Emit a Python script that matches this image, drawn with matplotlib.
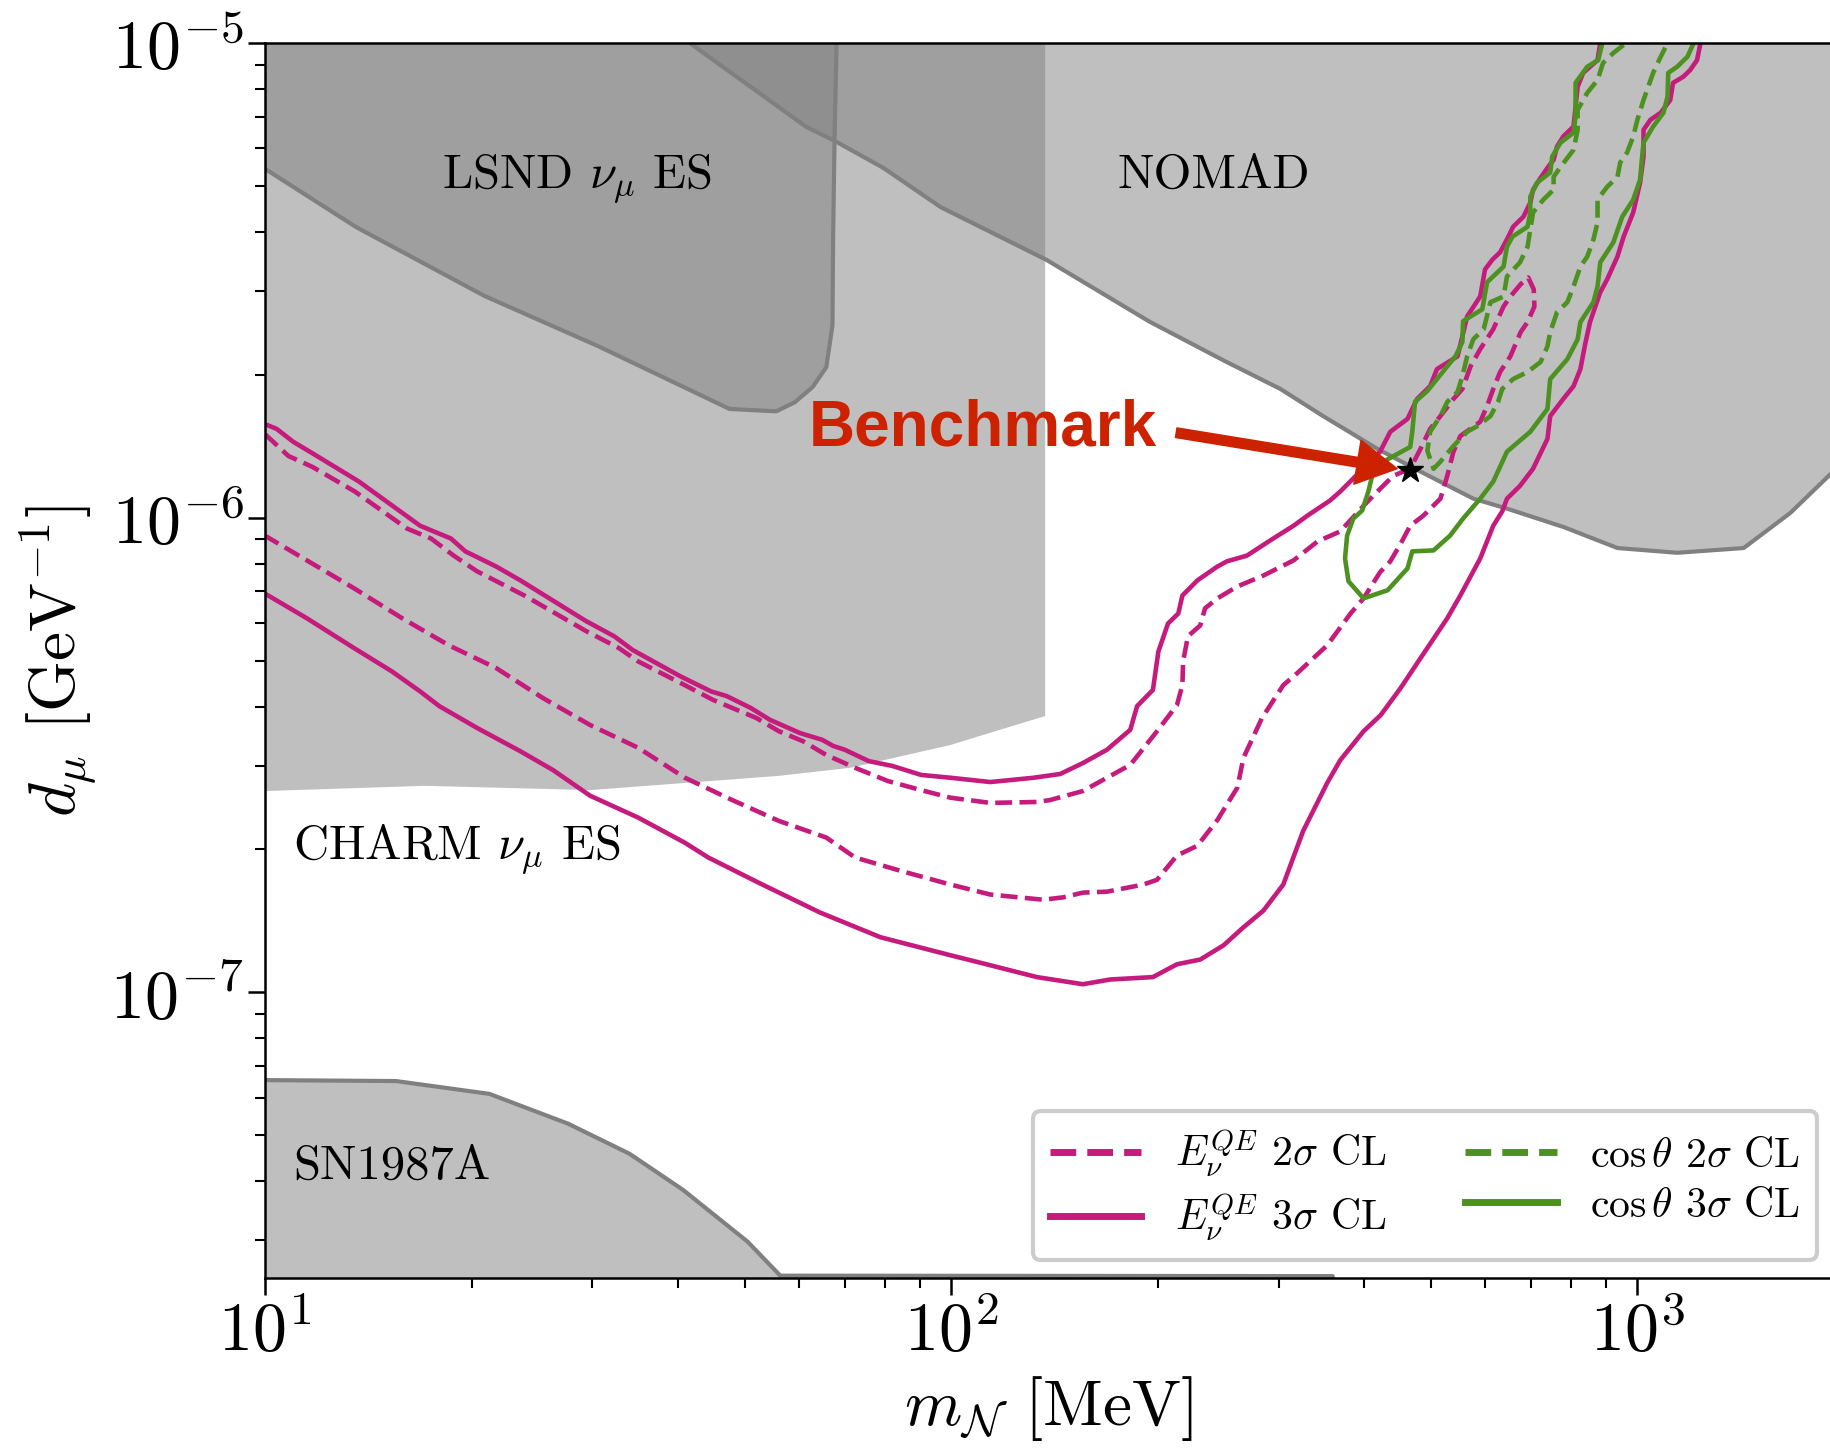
import numpy as np
import matplotlib
matplotlib.use('Agg')
import matplotlib.pyplot as plt
from matplotlib.lines import Line2D

plt.rcParams.update({'font.family': 'serif', 'font.serif': ['cmr10'],
                     'mathtext.fontset': 'cm',
                     'axes.formatter.use_mathtext': True,
                     'font.size': 44})

# all curves given as (log10 m_N [MeV], log10 d_mu [GeV^-1])
charm_edge = np.array([[1.000, -6.576], [1.233, -6.565], [1.474, -6.574], [1.749, -6.544],
                       [1.853, -6.527], [1.999, -6.479], [2.071, -6.447], [2.137, -6.418]])

lsnd_edge = np.array([[1.000, -5.265], [1.133, -5.388], [1.320, -5.533], [1.486, -5.639],
                      [1.677, -5.771], [1.745, -5.776], [1.772, -5.757], [1.798, -5.725],
                      [1.818, -5.683], [1.827, -5.595], [1.828, -5.405], [1.830, -5.206],
                      [1.833, -5.000]])

nomad_edge = np.array([[1.619, -5.000], [1.789, -5.177], [1.830, -5.206], [1.901, -5.263],
                       [1.985, -5.346], [2.139, -5.457], [2.289, -5.587], [2.400, -5.671],
                       [2.480, -5.729], [2.542, -5.786], [2.621, -5.855], [2.684, -5.903],
                       [2.761, -5.960], [2.810, -5.981], [2.893, -6.020], [2.971, -6.064],
                       [3.058, -6.074], [3.155, -6.064], [3.223, -5.990], [3.281, -5.909],
                       [3.310, -5.870]])

sn_edge = np.array([[1.000, -7.185], [1.191, -7.187], [1.327, -7.214], [1.442, -7.277],
                    [1.531, -7.340], [1.609, -7.416], [1.703, -7.525], [1.751, -7.597],
                    [2.556, -7.598], [2.560, -8.500]])

# E_nu^QE 3 sigma: two open branches
e3_upper = np.array([
    [1.000, -5.803], [1.017, -5.813], [1.041, -5.840], [1.071, -5.866], [1.137, -5.924],
    [1.226, -6.017], [1.271, -6.044], [1.292, -6.071], [1.337, -6.103], [1.372, -6.132],
    [1.468, -6.218], [1.509, -6.250], [1.536, -6.279], [1.605, -6.334], [1.650, -6.366],
    [1.673, -6.376], [1.708, -6.401], [1.736, -6.426], [1.780, -6.454], [1.812, -6.468],
    [1.828, -6.481], [1.845, -6.489], [1.880, -6.513], [1.914, -6.523], [1.956, -6.542],
    [1.999, -6.548], [2.057, -6.557], [2.120, -6.548], [2.159, -6.540], [2.192, -6.517],
    [2.227, -6.489], [2.261, -6.447], [2.271, -6.397], [2.294, -6.363], [2.302, -6.282],
    [2.316, -6.223], [2.331, -6.202], [2.337, -6.164], [2.359, -6.132], [2.388, -6.103],
    [2.402, -6.092], [2.431, -6.080], [2.465, -6.048], [2.499, -6.017], [2.519, -5.996],
    [2.552, -5.964], [2.567, -5.945], [2.596, -5.903], [2.625, -5.861], [2.640, -5.819],
    [2.665, -5.792], [2.679, -5.750], [2.698, -5.723], [2.708, -5.687], [2.738, -5.660],
    [2.745, -5.618], [2.752, -5.576], [2.771, -5.534], [2.778, -5.477], [2.789, -5.456],
    [2.800, -5.441], [2.812, -5.408], [2.819, -5.387], [2.834, -5.366], [2.844, -5.336],
    [2.848, -5.309], [2.859, -5.284], [2.870, -5.261], [2.878, -5.246], [2.883, -5.218],
    [2.892, -5.197], [2.907, -5.176], [2.910, -5.134], [2.913, -5.092], [2.921, -5.063],
    [2.942, -5.036], [2.946, -5.000]])

e3_lower = np.array([
    [1.000, -6.160], [1.061, -6.212], [1.130, -6.275], [1.185, -6.324], [1.226, -6.366],
    [1.254, -6.397], [1.309, -6.443], [1.372, -6.492], [1.420, -6.532], [1.474, -6.586],
    [1.544, -6.632], [1.612, -6.685], [1.646, -6.716], [1.722, -6.771], [1.809, -6.832],
    [1.897, -6.884], [1.999, -6.922], [2.057, -6.943], [2.125, -6.968], [2.192, -6.983],
    [2.232, -6.973], [2.294, -6.968], [2.329, -6.941], [2.363, -6.931], [2.397, -6.901],
    [2.426, -6.863], [2.455, -6.828], [2.484, -6.773], [2.513, -6.660], [2.548, -6.559],
    [2.567, -6.511], [2.601, -6.450], [2.626, -6.416], [2.655, -6.359], [2.684, -6.296],
    [2.723, -6.212], [2.742, -6.164], [2.771, -6.086], [2.790, -6.017], [2.803, -5.987],
    [2.810, -5.960], [2.829, -5.933], [2.848, -5.897], [2.869, -5.834], [2.873, -5.786],
    [2.892, -5.750], [2.907, -5.723], [2.917, -5.687], [2.924, -5.634], [2.931, -5.588],
    [2.946, -5.525], [2.956, -5.498], [2.971, -5.450], [2.980, -5.408], [2.994, -5.357],
    [3.004, -5.294], [3.009, -5.239], [3.009, -5.183], [3.019, -5.162], [3.034, -5.147],
    [3.048, -5.120], [3.052, -5.084], [3.067, -5.071], [3.077, -5.057], [3.087, -5.036],
    [3.092, -5.000]])

# E_nu^QE 2 sigma: closed tongue, upper side then back along the lower side
e2_upper = np.array([
    [1.000, -5.824], [1.034, -5.870], [1.069, -5.893], [1.131, -5.945], [1.207, -6.023],
    [1.242, -6.044], [1.275, -6.080], [1.309, -6.113], [1.378, -6.164], [1.468, -6.239],
    [1.516, -6.275], [1.544, -6.303], [1.612, -6.353], [1.653, -6.384], [1.681, -6.401],
    [1.716, -6.422], [1.749, -6.450], [1.784, -6.471], [1.818, -6.500], [1.860, -6.527],
    [1.908, -6.555], [1.956, -6.574], [1.999, -6.590], [2.057, -6.601], [2.125, -6.599],
    [2.144, -6.595], [2.192, -6.576], [2.227, -6.548], [2.261, -6.521], [2.300, -6.450],
    [2.329, -6.395], [2.337, -6.353], [2.338, -6.303], [2.345, -6.250], [2.363, -6.227],
    [2.370, -6.191], [2.388, -6.170], [2.417, -6.145], [2.455, -6.122], [2.499, -6.090],
    [2.534, -6.050], [2.567, -6.029], [2.601, -5.975], [2.615, -5.954], [2.644, -5.912],
    [2.669, -5.897], [2.684, -5.855], [2.698, -5.813], [2.713, -5.786], [2.732, -5.750],
    [2.745, -5.729], [2.757, -5.681], [2.771, -5.645], [2.790, -5.603], [2.805, -5.555],
    [2.815, -5.534], [2.830, -5.508], [2.841, -5.494]])

e2_lower = np.array([
    [2.849, -5.519], [2.850, -5.555], [2.840, -5.588], [2.830, -5.609], [2.815, -5.660],
    [2.800, -5.693], [2.790, -5.729], [2.781, -5.765], [2.771, -5.798], [2.742, -5.828],
    [2.732, -5.861], [2.723, -5.912], [2.713, -5.960], [2.688, -5.996], [2.669, -6.017],
    [2.655, -6.055], [2.640, -6.092], [2.625, -6.115], [2.601, -6.170], [2.582, -6.202],
    [2.548, -6.269], [2.504, -6.328], [2.484, -6.353], [2.453, -6.422], [2.426, -6.506],
    [2.417, -6.569], [2.388, -6.637], [2.359, -6.691], [2.329, -6.712], [2.300, -6.763],
    [2.280, -6.773], [2.227, -6.788], [2.192, -6.790], [2.163, -6.800], [2.134, -6.805],
    [2.057, -6.794], [1.999, -6.773], [1.926, -6.744], [1.860, -6.716], [1.818, -6.674],
    [1.749, -6.639], [1.681, -6.595], [1.612, -6.548], [1.544, -6.485], [1.474, -6.437],
    [1.405, -6.380], [1.337, -6.317], [1.268, -6.269], [1.200, -6.212], [1.130, -6.149],
    [1.061, -6.090], [1.000, -6.038]])

# cos(theta) 3 sigma: left side top->tip, right side tip->top
c3_left = np.array([
    [2.949, -5.000], [2.943, -5.036], [2.927, -5.050], [2.910, -5.084], [2.910, -5.155],
    [2.907, -5.189], [2.888, -5.210], [2.876, -5.239], [2.873, -5.273], [2.854, -5.294],
    [2.844, -5.324], [2.844, -5.357], [2.840, -5.387], [2.818, -5.408], [2.810, -5.429],
    [2.805, -5.471], [2.781, -5.504], [2.774, -5.561], [2.746, -5.586], [2.745, -5.630],
    [2.735, -5.660], [2.723, -5.681], [2.708, -5.708], [2.694, -5.733], [2.676, -5.756],
    [2.672, -5.819], [2.669, -5.851], [2.630, -5.882], [2.615, -5.903], [2.608, -5.945],
    [2.599, -5.985], [2.586, -6.002], [2.577, -6.038], [2.574, -6.086], [2.579, -6.134],
    [2.601, -6.170]])

c3_right = np.array([
    [2.636, -6.153], [2.665, -6.107], [2.672, -6.071], [2.703, -6.069], [2.727, -6.038],
    [2.746, -6.002], [2.771, -5.960], [2.790, -5.924], [2.810, -5.861], [2.844, -5.819],
    [2.869, -5.771], [2.873, -5.708], [2.898, -5.666], [2.913, -5.624], [2.917, -5.588],
    [2.936, -5.546], [2.942, -5.513], [2.946, -5.462], [2.965, -5.420], [2.978, -5.366],
    [2.994, -5.330], [3.004, -5.288], [3.007, -5.239], [3.009, -5.210], [3.023, -5.176],
    [3.038, -5.147], [3.044, -5.113], [3.045, -5.063], [3.058, -5.050], [3.073, -5.029],
    [3.082, -5.000]])

# cos(theta) 2 sigma
c2_left = np.array([
    [2.980, -5.004], [2.965, -5.021], [2.950, -5.042], [2.942, -5.078], [2.927, -5.105],
    [2.913, -5.141], [2.913, -5.183], [2.907, -5.225], [2.888, -5.261], [2.878, -5.282],
    [2.878, -5.309], [2.863, -5.330], [2.848, -5.357], [2.844, -5.393], [2.840, -5.429],
    [2.829, -5.462], [2.810, -5.492], [2.805, -5.534], [2.786, -5.546], [2.776, -5.603],
    [2.761, -5.624], [2.752, -5.660], [2.745, -5.702], [2.738, -5.735], [2.723, -5.756],
    [2.713, -5.786], [2.698, -5.819], [2.694, -5.859], [2.703, -5.897]])

c2_right = np.array([
    [2.713, -5.882], [2.732, -5.849], [2.752, -5.819], [2.767, -5.807], [2.786, -5.786],
    [2.797, -5.756], [2.803, -5.729], [2.819, -5.708], [2.840, -5.693], [2.859, -5.672],
    [2.869, -5.639], [2.873, -5.609], [2.883, -5.567], [2.898, -5.546], [2.907, -5.513],
    [2.917, -5.471], [2.927, -5.450], [2.936, -5.414], [2.942, -5.378], [2.942, -5.330],
    [2.956, -5.303], [2.971, -5.282], [2.975, -5.252], [2.985, -5.231], [2.994, -5.197],
    [3.000, -5.162], [3.009, -5.120], [3.023, -5.063], [3.034, -5.029], [3.044, -5.000]])

bench_m, bench_d = 467.0, 1.26e-6

region_labels = [('LSND $\\nu_\\mu$ ES', 18.1, 4.95e-6),
                 ('NOMAD', 174.6, 4.95e-6),
                 ('CHARM $\\nu_\\mu$ ES', 11.0, 1.91e-7),
                 ('SN1987A', 11.0, 4.05e-8)]

legend_labels = ['$E_\\nu^{QE}$ $2\\sigma$ CL', '$E_\\nu^{QE}$ $3\\sigma$ CL',
                 '$\\cos\\theta$ $2\\sigma$ CL', '$\\cos\\theta$ $3\\sigma$ CL']

pink = '#c51b7d'
green = '#4d9221'
red = '#cc2200'
ymin, ymax = 2.5e-8, 1e-5
xmin, xmax = 10, 2000


def lin(a):
    return 10**a[:, 0], 10**a[:, 1]


fig = plt.figure(figsize=(18.3, 14.53), dpi=100)
ax = fig.add_axes([0.1448, 0.1204, 0.8628, 0.8500])
ax.set_xscale('log')
ax.set_yscale('log')

# excluded regions
cm, cd = lin(charm_edge)
ax.fill(np.r_[cm, cm[-1], cm[0]], np.r_[cd, ymax, ymax], color='grey', alpha=0.5, lw=0)
lm, ld = lin(lsnd_edge)
ax.fill_between(lm, ld, ymax, color='grey', alpha=0.5, lw=0)
nm, nd = lin(nomad_edge)
ax.fill_between(nm, nd, ymax, color='grey', alpha=0.5, lw=0)
sm, sd = lin(sn_edge)
ax.fill_between(sm, 1e-9, sd, color='grey', alpha=0.5, lw=0)
for m, d in [(lm, ld), (nm, nd), (sm, sd)]:
    ax.plot(m, d, color='grey', lw=3.0)

# sensitivity contours
lw = 3.3
ax.plot(*lin(e3_upper), color=pink, lw=lw)
ax.plot(*lin(e3_lower), color=pink, lw=lw)
ax.plot(*lin(np.vstack([e2_upper, e2_lower])), color=pink, lw=lw, ls='--')
ax.plot(*lin(np.vstack([c3_left, c3_right])), color=green, lw=lw)
ax.plot(*lin(np.vstack([c2_left, c2_right])), color=green, lw=lw, ls='--')

ax.plot(bench_m, bench_d, marker='*', color='k', ms=19, zorder=10)
ax.annotate('', xy=(446.7, 1.268e-6), xytext=(212.8, 1.51e-6),
            arrowprops=dict(facecolor=red, edgecolor=red, width=7, headwidth=32,
                            headlength=29, shrink=0))
ax.text(62.0, 1.416e-6, 'Benchmark', color=red, fontsize=46, fontweight='bold',
        family='Liberation Sans', ha='left', va='baseline')

for txt, x, y in region_labels:
    ax.text(x, y, txt, fontsize=35, ha='left', va='baseline')

handles = [Line2D([], [], color=pink, lw=5, ls='--'), Line2D([], [], color=pink, lw=5),
           Line2D([], [], color=green, lw=5, ls='--'), Line2D([], [], color=green, lw=5)]
leg = ax.legend(handles, legend_labels, ncol=2, fontsize=30, loc='lower right',
                bbox_to_anchor=(0.983, 0.0146), borderaxespad=0, framealpha=1,
                edgecolor='#cccccc', handlelength=2.2, handletextpad=0.8,
                columnspacing=1.9, labelspacing=0.3)
leg.get_frame().set_linewidth(3)

ax.set_xlim(xmin, xmax)
ax.set_ylim(ymin, ymax)
ax.set_xlabel('$m_\\mathcal{N}$ [MeV]', fontsize=47)
ax.set_ylabel('$d_\\mu$ [GeV$^{-1}$]', fontsize=47)
ax.xaxis.set_label_coords(0.496, -0.078)
ax.yaxis.set_label_coords(-0.106, 0.5)
ax.tick_params(which='major', length=12, width=1.8, labelsize=49, direction='out')
ax.tick_params(which='minor', length=7, width=1.5)
for s in ax.spines.values():
    s.set_linewidth(1.8)

fig.savefig('out.png', dpi=100)
